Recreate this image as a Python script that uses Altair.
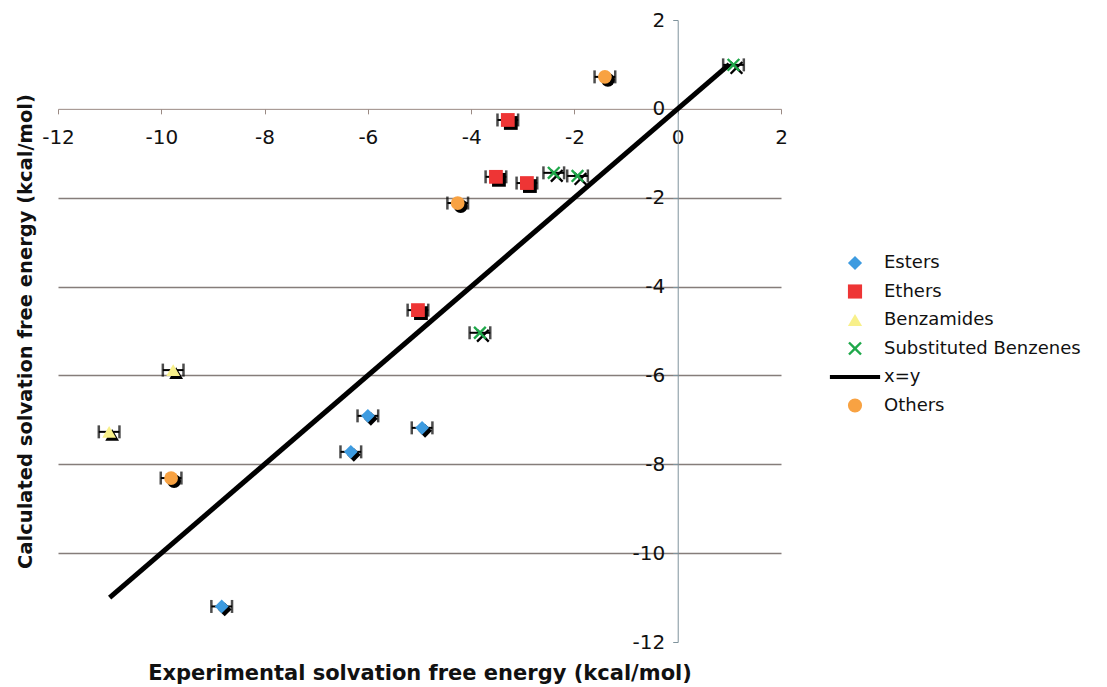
import altair as alt
import pandas as pd

# ---- data ----
esters_x = [-6.0, -4.95, -6.33, -8.83]
esters_y = [-6.91, -7.18, -7.72, -11.2]
ethers_x = [-3.29, -3.52, -2.92, -5.03]
ethers_y = [-0.25, -1.53, -1.67, -4.53]
benzamides_x = [-9.77, -11.01]
benzamides_y = [-5.88, -7.27]
subst_x = [1.08, -2.40, -1.94, -3.83]
subst_y = [0.99, -1.44, -1.51, -5.04]
others_x = [-1.41, -4.26, -9.81]
others_y = [0.72, -2.12, -8.31]
err = 0.2

line_x = [-11.0, 1.0]
line_y = [-11.0, 1.0]

categories = ["Esters", "Ethers", "Benzamides", "Substituted Benzenes", "x=y", "Others"]
colors = ["#3d9be0", "#ee3535", "#f8f08a", "#1fa84a", "#000000", "#f8a242"]
x_path = ("M-0.728,0.969L0,0.24L0.728,0.969L0.969,0.728L0.24,0L0.969,-0.728"
          "L0.728,-0.969L0,-0.24L-0.728,-0.969L-0.969,-0.728L-0.24,0L-0.969,0.728Z")
line_path = "M-3.55,-0.3H3.55V0.3H-3.55Z"
shapes = ["diamond", "square", "triangle-up", x_path, line_path, "circle"]
ticks = [-12, -10, -8, -6, -4, -2, 0, 2]

rows = []
for name, xs, ys in [("Esters", esters_x, esters_y), ("Ethers", ethers_x, ethers_y),
                     ("Benzamides", benzamides_x, benzamides_y),
                     ("Substituted Benzenes", subst_x, subst_y),
                     ("Others", others_x, others_y)]:
    for xv, yv in zip(xs, ys):
        rows.append({"cat": name, "x": xv, "y": yv, "lo": xv - err, "hi": xv + err})
df = pd.DataFrame(rows)
line_df = pd.DataFrame({"x": line_x, "y": line_y})

FONT = "DejaVu Sans"
W, H = 723, 622
xdom = [-12, 2]
ydom = [-12, 2]

xscale = alt.Scale(domain=xdom, nice=False, zero=False)
yscale = alt.Scale(domain=ydom, nice=False, zero=False)

x_axis = alt.Axis(
    values=ticks, offset=-(H * 12 / 14), grid=False, domainColor="#9a8a84",
    tickColor="#9a8a84", tickSize=5, labelPadding=14, labelFontSize=20,
    labelFlush=False, labelExpr="'' + datum.value",
    labelFont=FONT, labelColor="#111111", title="Experimental solvation free energy (kcal/mol)",
    titleFont=FONT, titleFontSize=21, titleFontWeight="bold", titleColor="#111111",
    titleY=H * 12 / 14 + 31, titleBaseline="middle",
)
y_axis = alt.Axis(
    values=ticks, offset=-(W * 12 / 14), grid=True,
    gridColor="#857d7a", gridWidth=1.3,
    gridOpacity={"condition": {"test": "datum.value == 2 || datum.value == -12 || datum.value == 0", "value": 0}, "value": 1},
    domainColor="#7f939c", tickColor="#7f939c", tickSize=5, labelPadding=8,
    labelFlush=False, labelExpr="'' + datum.value",
    labelFontSize=20, labelFont=FONT, labelColor="#111111",
    title="Calculated solvation free energy (kcal/mol)", titleFont=FONT,
    titleFontSize=19.5, titleFontWeight="bold", titleColor="#111111",
    titleX=-(W * 12 / 14) - 33, titleY=H / 2, titleBaseline="middle", titleAngle=-90,
)

def X(field):
    return alt.X(field, scale=xscale, axis=x_axis)

Y = alt.Y("y:Q", scale=yscale, axis=y_axis)

color_enc = alt.Color("cat:N", scale=alt.Scale(domain=categories, range=colors), title=None,
                      legend=alt.Legend(orient="none", legendX=788, legendY=234,
                                        labelFontSize=18, labelFont=FONT, labelColor="#111111",
                                        labelLimit=400,
                                        symbolSize=200, symbolStrokeWidth=0, rowPadding=10.5,
                                        labelOffset=20))
shape_enc = alt.Shape("cat:N", scale=alt.Scale(domain=categories, range=shapes), title=None)

base = alt.Chart(df)
bars = base.mark_rule(color="black", strokeWidth=2).encode(x=X("lo:Q"), x2="hi:Q", y=Y)
cap_lo = base.mark_tick(color="black", orient="vertical", size=13, thickness=2.5).encode(
    x=X("lo:Q"), y=Y)
cap_hi = base.mark_tick(color="black", orient="vertical", size=13, thickness=2.5).encode(
    x=X("hi:Q"), y=Y)
shadow = base.mark_point(filled=True, size=190, opacity=1, xOffset=3, yOffset=3,
                         color="black").encode(x=X("x:Q"), y=Y, shape=shape_enc)
pts = base.mark_point(filled=True, size=190, opacity=1).encode(
    x=X("x:Q"), y=Y, color=color_enc, shape=shape_enc)
line = alt.Chart(line_df).mark_line(color="black", strokeWidth=5).encode(x=X("x:Q"), y=Y)

chart = alt.layer(bars, cap_lo, cap_hi, shadow, line, pts).properties(
    width=W, height=H,
    background="white",
    autosize=alt.AutoSizeParams(type="none"),
    padding={"left": 50, "top": 12, "right": 318, "bottom": 45},
).configure_view(strokeWidth=0, strokeOpacity=0)

chart.save("out.html", embed_options={"renderer": "svg", "actions": False})
